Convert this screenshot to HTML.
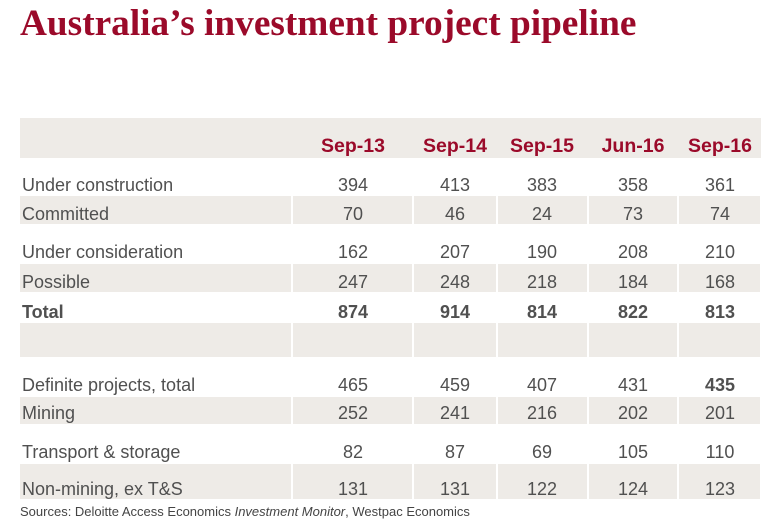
<!DOCTYPE html>
<html><head><meta charset="utf-8"><style>
body{margin:0;width:779px;height:531px;background:#fff;position:relative;overflow:hidden;font-family:"Liberation Sans",sans-serif}
.a{position:absolute}
#title{left:20px;top:2px;font-family:"Liberation Serif",serif;font-weight:bold;font-size:37.3px;color:#9b0a2a;white-space:nowrap}
.band{background:#eeebe7}
.lbl{font-size:18px;color:#505050;white-space:nowrap;line-height:20px}
.num{font-size:18px;color:#505050;width:90px;text-align:center;line-height:20px}
.hdr{font-size:19.5px;font-weight:bold;color:#9b0a2a;width:90px;text-align:center}
.src{left:20px;top:504px;font-size:13px;color:#444;white-space:nowrap}
</style></head><body>
<div id="title" class="a">Australia’s investment project pipeline</div>
<div class="a band" style="left:20px;top:118px;width:741px;height:40px"></div>
<div class="a src">Sources: Deloitte Access Economics <i>Investment Monitor</i>, Westpac Economics</div>
<script>
const periods=["Sep-13","Sep-14","Sep-15","Jun-16","Sep-16"];
const rowLabels=["Under construction","Committed","Under consideration","Possible","Total","","Definite projects, total","Mining","Transport & storage","Non-mining, ex T&S"];
const rowValues=[[394,413,383,358,361],[70,46,24,73,74],[162,207,190,208,210],[247,248,218,184,168],[874,914,814,822,813],null,[465,459,407,431,435],[252,241,216,202,201],[82,87,69,105,110],[131,131,122,124,123]];
const colX=[353,455,542,633,720];
const rowY=[185,214,252,282,312,340,385,413,452,489];
const shaded=[[196,224],[264,292],[323,357],[397,424],[464,499]];
const seps=[20,292,413,497,588,678,761];
const body=document.body;
shaded.forEach(([t,b],i)=>{for(let k=0;k<seps.length-1;k++){const d=document.createElement('div');d.className='a band';
const l=seps[k]+(k?1:0),r=seps[k+1]-1;d.style.cssText=`left:${l}px;top:${t}px;width:${r-l}px;height:${b-t}px`;

body.appendChild(d);}});
periods.forEach((p,i)=>{const d=document.createElement('div');d.className='a hdr';d.textContent=p;
d.style.left=(colX[i]-45)+'px';d.style.top='135px';

body.appendChild(d);});
rowLabels.forEach((lab,r)=>{if(!rowValues[r])return;const bold=r===4;
const d=document.createElement('div');d.className='a lbl';d.textContent=lab;d.style.left='22px';d.style.top=(rowY[r]-10)+'px';if(bold)d.style.fontWeight='bold';

body.appendChild(d);
rowValues[r].forEach((v,i)=>{const n=document.createElement('div');n.className='a num';n.textContent=v;
n.style.left=(colX[i]-45)+'px';n.style.top=(rowY[r]-10)+'px';if(bold||(r===6&&i===4))n.style.fontWeight='bold';

body.appendChild(n);});});
</script>
</body></html>
